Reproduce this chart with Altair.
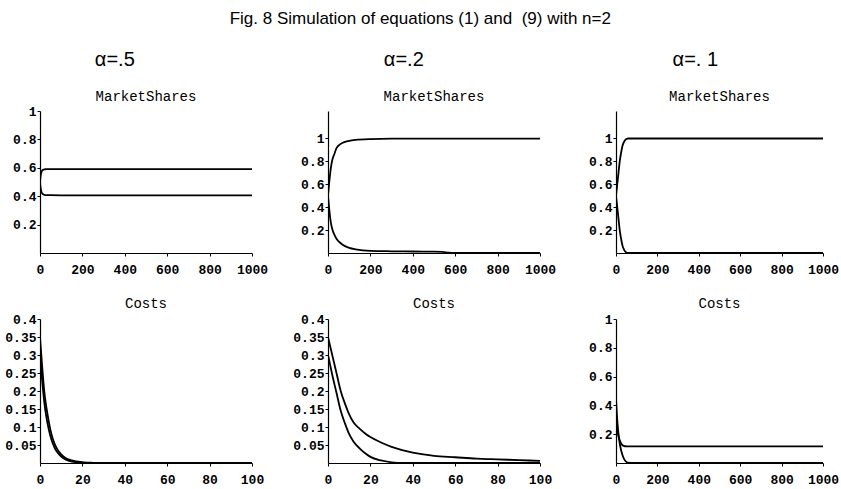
import altair as alt
import pandas as pd

TITLE = "Fig. 8 Simulation of equations (1) and\u00a0 (9) with n=2"
ALPHAS = ["α=.5", "α=.2", "α=. 1"]
TOP_TITLE = "MarketShares"
BOTTOM_TITLE = "Costs"

# ---- Market shares, alpha = .5
T_MS5 = [0, 2, 4, 6, 8, 10, 15, 20, 30, 50, 100, 200, 400, 600, 800, 1000]
MS5_A = [0.50, 0.53, 0.55, 0.565, 0.575, 0.58, 0.586, 0.589, 0.59, 0.591, 0.591, 0.591, 0.591, 0.591, 0.591, 0.591]
MS5_B = [0.50, 0.47, 0.45, 0.435, 0.425, 0.42, 0.413, 0.41, 0.408, 0.407, 0.406, 0.406, 0.406, 0.406, 0.406, 0.406]

# ---- Market shares, alpha = .2
T_MS2 = [0, 5, 10, 15, 20, 30, 40, 60, 80, 100, 130, 200, 300, 400, 500, 540, 570, 600, 800, 1000]
MS2_A = [0.5, 0.6, 0.69, 0.76, 0.81, 0.865, 0.915, 0.953, 0.97, 0.98, 0.988, 0.995, 0.998, 0.998, 0.998, 0.998, 0.998, 0.998, 0.998, 0.998]
MS2_B = [0.5, 0.4, 0.31, 0.25, 0.21, 0.16, 0.125, 0.085, 0.06, 0.045, 0.032, 0.018, 0.015, 0.013, 0.012, 0.01, 0.003, 0.001, 0.0, 0.0]

# ---- Market shares, alpha = .1
T_MS1 = [0, 6, 12, 18, 25, 32, 40, 50, 60, 100, 200, 400, 600, 800, 1000]
MS1_A = [0.5, 0.6, 0.7, 0.8, 0.88, 0.94, 0.975, 0.995, 1.0, 1.0, 1.0, 1.0, 1.0, 1.0, 1.0]
MS1_B = [0.5, 0.4, 0.3, 0.2, 0.12, 0.06, 0.025, 0.005, 0.0, 0.0, 0.0, 0.0, 0.0, 0.0, 0.0]

# ---- Costs, alpha = .5
T_C5 = [0, 1, 2, 3, 4, 5, 6, 7, 8, 10, 12, 15, 20, 25, 30, 50, 70, 100]
C5_A = [0.35, 0.27, 0.2, 0.155, 0.12, 0.09, 0.068, 0.052, 0.04, 0.024, 0.014, 0.007, 0.002, 0.0005, 0.0, 0.0, 0.0, 0.0]
C5_B = [0.30, 0.23, 0.17, 0.128, 0.097, 0.073, 0.055, 0.041, 0.031, 0.018, 0.01, 0.004, 0.001, 0.0, 0.0, 0.0, 0.0, 0.0]

# ---- Costs, alpha = .2
T_C2 = [0, 2, 4, 6, 8, 10, 12, 15, 18, 20, 25, 30, 35, 40, 45, 50, 60, 70, 80, 90, 100]
C2_A = [0.35, 0.3, 0.25, 0.2, 0.165, 0.135, 0.113, 0.095, 0.08, 0.072, 0.057, 0.045, 0.036, 0.029, 0.024, 0.02, 0.016, 0.012, 0.01, 0.008, 0.006]
C2_B = [0.30, 0.245, 0.195, 0.145, 0.11, 0.08, 0.06, 0.04, 0.025, 0.017, 0.007, 0.002, 0.0, 0.0, 0.0, 0.0, 0.0, 0.0, 0.0, 0.0, 0.0]

# ---- Costs, alpha = .1
T_C1 = [0, 5, 10, 15, 20, 30, 40, 50, 60, 80, 100, 200, 400, 600, 800, 1000]
C1_A = [0.45, 0.32, 0.23, 0.165, 0.12, 0.06, 0.025, 0.008, 0.002, 0.0, 0.0, 0.0, 0.0, 0.0, 0.0, 0.0]
C1_B = [0.30, 0.24, 0.2, 0.17, 0.15, 0.125, 0.118, 0.116, 0.115, 0.115, 0.115, 0.115, 0.115, 0.115, 0.115, 0.115]

X_TICKS_1000 = [0, 200, 400, 600, 800, 1000]
X_TICKS_100 = [0, 20, 40, 60, 80, 100]
Y_TICKS_SHARE = [0.2, 0.4, 0.6, 0.8, 1]
Y_TICKS_COST = [0.05, 0.1, 0.15, 0.2, 0.25, 0.3, 0.35, 0.4]

# layout constants (styles, not data)
COL_WIDTHS = [212, 212, 207]
ALPHA_DX = [-20, -19, -13]
Y_EXTENT = 38


def make_df(t, series):
    rows = []
    for k, ys in enumerate(series):
        for a, b in zip(t, ys):
            rows.append({"t": a, "v": b, "s": "s%d" % k})
    return pd.DataFrame(rows)


def panel(t, series, xdom, xticks, ydom, yticks, w, h, title):
    df = make_df(t, series)
    return (
        alt.Chart(df)
        .mark_line(color="black", strokeWidth=1.8, interpolate="monotone", clip=True)
        .encode(
            x=alt.X("t:Q", scale=alt.Scale(domain=xdom, nice=False, zero=False),
                    axis=alt.Axis(values=xticks, format="d", title=None,
                                  labelPadding=7, labelOverlap=False, labelFlush=False)),
            y=alt.Y("v:Q", scale=alt.Scale(domain=ydom, nice=False, zero=False),
                    axis=alt.Axis(values=yticks, format="~g", title=None,
                                  minExtent=Y_EXTENT, maxExtent=Y_EXTENT)),
            detail="s:N",
        )
        .properties(width=w, height=h, title=title)
    )


def unit_title(text, offset, dy=0):
    return alt.TitleParams(
        text=text,
        font="Liberation Mono",
        fontSize=14,
        fontWeight="normal",
        color="black",
        anchor="middle",
        offset=offset,
        dy=dy,
    )


p1 = panel(T_MS5, [MS5_A, MS5_B], [0, 1000], X_TICKS_1000, [0, 1], Y_TICKS_SHARE,
           COL_WIDTHS[0], 142, unit_title(TOP_TITLE, 7, 6))
p2 = panel(T_MS2, [MS2_A, MS2_B], [0, 1000], X_TICKS_1000, [0, 1.24], Y_TICKS_SHARE,
           COL_WIDTHS[1], 142, unit_title(TOP_TITLE, 7))
p3 = panel(T_MS1, [MS1_A, MS1_B], [0, 1000], X_TICKS_1000, [0, 1.24], Y_TICKS_SHARE,
           COL_WIDTHS[2], 142, unit_title(TOP_TITLE, 7))
p4 = panel(T_C5, [C5_A, C5_B], [0, 100], X_TICKS_100, [0, 0.4], Y_TICKS_COST,
           COL_WIDTHS[0], 144, unit_title(BOTTOM_TITLE, 2))
p5 = panel(T_C2, [C2_A, C2_B], [0, 100], X_TICKS_100, [0, 0.4], Y_TICKS_COST,
           COL_WIDTHS[1], 144, unit_title(BOTTOM_TITLE, 2))
p6 = panel(T_C1, [C1_A, C1_B], [0, 1000], X_TICKS_1000, [0, 1], Y_TICKS_SHARE,
           COL_WIDTHS[2], 144, unit_title(BOTTOM_TITLE, 2))


def column(top, bottom, alpha, dx):
    return alt.vconcat(top, bottom, spacing=21).properties(
        title=alt.TitleParams(
            text=alpha,
            font="Liberation Sans",
            fontSize=20,
            fontWeight="normal",
            color="black",
            anchor="middle",
            offset=20,
            dx=dx,
        )
    )


cols = [
    column(p1, p4, ALPHAS[0], ALPHA_DX[0]),
    column(p2, p5, ALPHAS[1], ALPHA_DX[1]),
    column(p3, p6, ALPHAS[2], ALPHA_DX[2]),
]

chart = (
    alt.hconcat(*cols, spacing=22)
    .properties(
        title=alt.TitleParams(
            text=TITLE,
            font="Liberation Sans",
            fontSize=17,
            fontWeight="normal",
            color="black",
            anchor="middle",
            offset=22,
        ),
        padding={"left": 2, "top": 10, "right": 0, "bottom": 2},
        background="white",
    )
    .configure_view(stroke=None)
    .configure_axis(
        grid=False,
        domainColor="black",
        domainWidth=1.2,
        tickColor="black",
        tickSize=3,
        labelColor="black",
        labelFont="Liberation Mono",
        labelFontSize=13,
        labelFontWeight="bold",
        labelPadding=1,
    )
)

chart.save("out.html", embed_options={"renderer": "svg", "actions": False})
